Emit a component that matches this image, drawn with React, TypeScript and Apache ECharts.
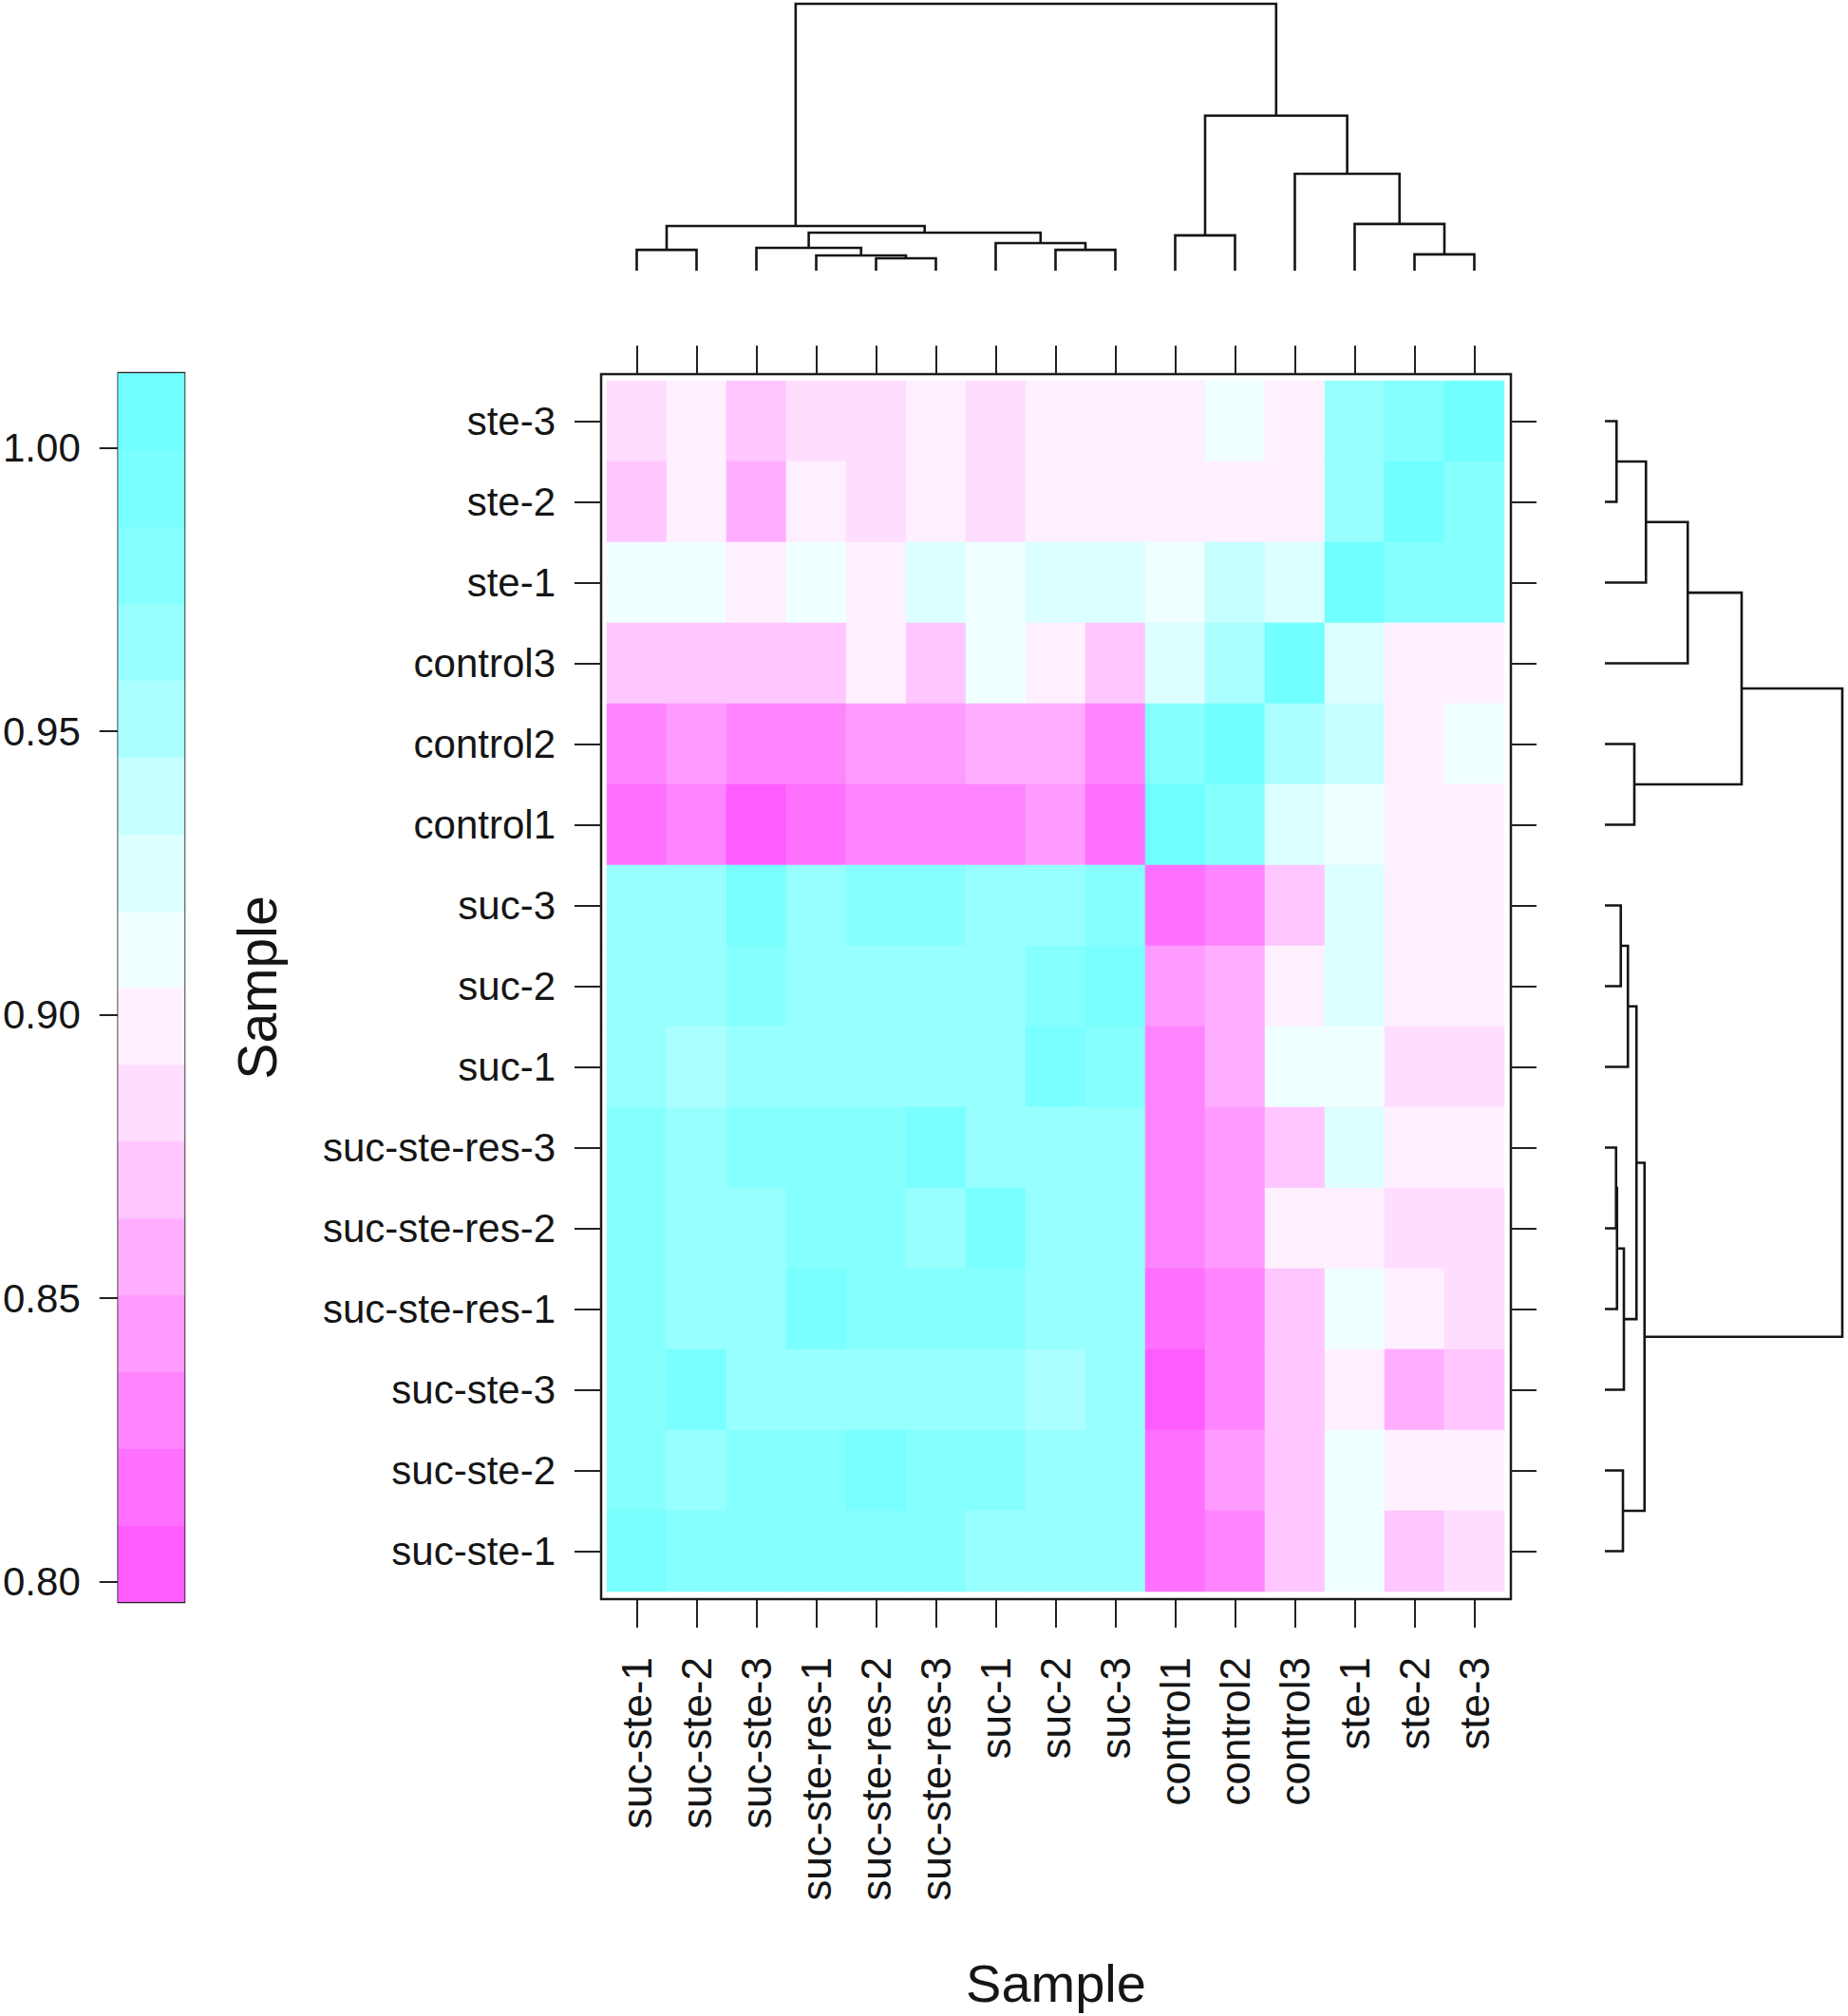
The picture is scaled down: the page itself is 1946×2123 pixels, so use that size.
import React, { useEffect, useRef } from "react";
import * as echarts from "echarts";

// ---------- DATA ----------
const samples = [
  "suc-ste-1", "suc-ste-2", "suc-ste-3",
  "suc-ste-res-1", "suc-ste-res-2", "suc-ste-res-3",
  "suc-1", "suc-2", "suc-3",
  "control1", "control2", "control3",
  "ste-1", "ste-2", "ste-3",
];

// heatmap rows, listed from the top row (ste-3) down to the bottom row (suc-ste-1);
// each row's values follow the column order of `samples`
const rowSte3 = [0.884, 0.898, 0.871, 0.884, 0.884, 0.898, 0.884, 0.898, 0.898, 0.898, 0.912, 0.898, 0.966, 0.979, 1.0];
const rowSte2 = [0.871, 0.898, 0.857, 0.898, 0.884, 0.898, 0.884, 0.898, 0.898, 0.898, 0.898, 0.898, 0.966, 1.0, 0.979];
const rowSte1 = [0.912, 0.912, 0.898, 0.912, 0.898, 0.925, 0.912, 0.925, 0.925, 0.912, 0.939, 0.925, 1.0, 0.979, 0.979];
const rowControl3 = [0.871, 0.871, 0.871, 0.871, 0.898, 0.871, 0.912, 0.898, 0.871, 0.925, 0.952, 1.0, 0.925, 0.898, 0.898];
const rowControl2 = [0.830, 0.844, 0.830, 0.830, 0.844, 0.844, 0.857, 0.857, 0.830, 0.979, 1.0, 0.952, 0.939, 0.898, 0.912];
const rowControl1 = [0.817, 0.830, 0.803, 0.817, 0.830, 0.830, 0.830, 0.844, 0.817, 1.0, 0.979, 0.925, 0.912, 0.898, 0.898];
const rowSuc3 = [0.966, 0.966, 0.993, 0.966, 0.979, 0.979, 0.966, 0.966, 0.979, 0.817, 0.830, 0.871, 0.925, 0.898, 0.898];
const rowSuc2 = [0.966, 0.966, 0.979, 0.966, 0.966, 0.966, 0.966, 0.979, 0.993, 0.844, 0.857, 0.898, 0.925, 0.898, 0.898];
const rowSuc1 = [0.966, 0.952, 0.966, 0.966, 0.966, 0.966, 0.966, 0.993, 0.979, 0.830, 0.857, 0.912, 0.912, 0.884, 0.884];
const rowRes3 = [0.979, 0.966, 0.979, 0.979, 0.979, 0.993, 0.966, 0.966, 0.966, 0.830, 0.844, 0.871, 0.925, 0.898, 0.898];
const rowRes2 = [0.979, 0.966, 0.966, 0.979, 0.979, 0.966, 0.993, 0.966, 0.966, 0.830, 0.844, 0.898, 0.898, 0.884, 0.884];
const rowRes1 = [0.979, 0.966, 0.966, 0.993, 0.979, 0.979, 0.979, 0.966, 0.966, 0.817, 0.830, 0.871, 0.912, 0.898, 0.884];
const rowSucSte3 = [0.979, 0.993, 0.966, 0.966, 0.966, 0.966, 0.966, 0.952, 0.966, 0.803, 0.830, 0.871, 0.898, 0.857, 0.871];
const rowSucSte2 = [0.979, 0.966, 0.979, 0.979, 0.993, 0.979, 0.979, 0.966, 0.966, 0.817, 0.844, 0.871, 0.912, 0.898, 0.898];
const rowSucSte1 = [0.993, 0.979, 0.979, 0.979, 0.979, 0.979, 0.966, 0.966, 0.966, 0.817, 0.830, 0.871, 0.912, 0.871, 0.884];

const rowsTopDown = [
  rowSte3, rowSte2, rowSte1, rowControl3, rowControl2, rowControl1,
  rowSuc3, rowSuc2, rowSuc1, rowRes3, rowRes2, rowRes1,
  rowSucSte3, rowSucSte2, rowSucSte1,
];

// colour key: 16 bands
const colorBreaks = [
  0.7964, 0.8099, 0.8235, 0.8370, 0.8506, 0.8641, 0.8777, 0.8912, 0.9048,
  0.9183, 0.9319, 0.9454, 0.9590, 0.9725, 0.9861, 0.9996, 1.0132,
];
const bandColors = [
  "#ff5cff", "#ff70ff", "#ff85ff", "#ff9aff", "#ffaeff", "#ffc6ff", "#ffddff", "#fff0ff",
  "#f0ffff", "#dcffff", "#c5ffff", "#abffff", "#98ffff", "#86ffff", "#79ffff", "#71ffff",
];
const keyTicks = [0.8, 0.85, 0.9, 0.95, 1.0];

// column dendrogram (hclust style: negative = leaf column, positive = earlier merge)
const colMerges = [
  [-5, -6], [-4, 1], [-8, -9], [-1, -2], [-3, 2], [-7, 3], [-14, -15],
  [-10, -11], [5, 6], [4, 9], [-13, 7], [-12, 11], [8, 12], [10, 13],
];
const colHeights = [0.046, 0.057, 0.078, 0.078, 0.0855, 0.103, 0.061, 0.132, 0.1425, 0.167, 0.175, 0.363, 0.581, 1.0];

// row dendrogram (leaf = row index counted from the bottom)
const rowMerges = [
  [-15, -14], [1, -13], [2, -12], [-11, -10], [3, 4], [-9, -8], [6, -7],
  [-6, -5], [8, -4], [9, -3], [7, 10], [-2, -1], [11, 12], [5, 13],
];
const rowHeights = [0.049, 0.173, 0.349, 0.124, 0.576, 0.067, 0.097, 0.047, 0.051, 0.08, 0.133, 0.076, 0.167, 1.0];

// ---------- HELPERS ----------
function dendroSegments(merges: number[][], heights: number[]) {
  const pos: number[] = [];
  const out: number[][] = [];
  merges.forEach(([a, b], i) => {
    const pa = a < 0 ? -a - 1 : pos[a - 1];
    const pb = b < 0 ? -b - 1 : pos[b - 1];
    const ha = a < 0 ? 0 : heights[a - 1];
    const hb = b < 0 ? 0 : heights[b - 1];
    pos[i] = (pa + pb) / 2;
    out.push([pa, pb, ha, hb, heights[i]]);
  });
  return out;
}

const FONT = "'Liberation Sans', Arial, Helvetica, sans-serif";
const INK = "#151515";

export default function App() {
  const ref = useRef<HTMLDivElement>(null);

  useEffect(() => {
    if (!ref.current) return;
    const chart = echarts.init(ref.current, undefined, { renderer: "svg" });

    const n = samples.length;
    const heatData: number[][] = [];
    rowsTopDown.forEach((row, ti) => {
      const yi = n - 1 - ti;
      row.forEach((v, xi) => heatData.push([xi, yi, v]));
    });

    const pieces = bandColors.map((c, i) => {
      const p: any = { gte: colorBreaks[i], color: c };
      if (i === bandColors.length - 1) p.lte = colorBreaks[i + 1];
      else p.lt = colorBreaks[i + 1];
      return p;
    });

    const keyData = bandColors.map((c, i) => [colorBreaks[i], colorBreaks[i + 1], i]);

    const tickStyle = { color: "#222", width: 2 };
    const hiddenValue = (min: number, max: number, gridIndex: number) => ({
      type: "value", gridIndex, min, max, show: false,
      splitLine: { show: false },
    });

    const option: any = {
      animation: false,
      backgroundColor: "#ffffff",
      grid: [
        { left: 639, top: 401, width: 945, height: 1275 },
        { left: 633, top: 394, width: 958, height: 1290, show: true, borderColor: "#1c1c1c", borderWidth: 2.5, backgroundColor: "transparent" },
        { left: 639, top: 4, width: 945, height: 281 },
        { left: 1690, top: 401, width: 250, height: 1275 },
        { left: 119, top: 393, width: 75, height: 1294, show: true, borderColor: "#1c1c1c", borderWidth: 2.5, backgroundColor: "transparent" },
      ],
      xAxis: [
        {
          gridIndex: 0, type: "category", data: samples, position: "bottom", offset: 8,
          axisLine: { show: false },
          axisTick: { show: true, alignWithLabel: true, interval: 0, length: 30, lineStyle: tickStyle },
          axisLabel: { interval: 0, rotate: 90, margin: 61, fontSize: 44, color: INK, fontFamily: FONT },
          splitLine: { show: false },
        },
        {
          gridIndex: 0, type: "category", data: samples, position: "top", offset: 7,
          axisLine: { show: false },
          axisTick: { show: true, alignWithLabel: true, interval: 0, length: 30, lineStyle: tickStyle },
          axisLabel: { show: false },
          splitLine: { show: false },
        },
        hiddenValue(0, 1, 1),
        hiddenValue(-0.5, n - 0.5, 2),
        hiddenValue(0, 1, 3),
        hiddenValue(0, 1, 4),
      ],
      yAxis: [
        {
          gridIndex: 0, type: "category", data: samples, position: "left", offset: 6,
          axisLine: { show: false },
          axisTick: { show: true, alignWithLabel: true, interval: 0, length: 28, lineStyle: tickStyle },
          axisLabel: { interval: 0, margin: 48, fontSize: 42, color: INK, fontFamily: FONT },
          splitLine: { show: false },
        },
        {
          gridIndex: 0, type: "category", data: samples, position: "right", offset: 7,
          axisLine: { show: false },
          axisTick: { show: true, alignWithLabel: true, interval: 0, length: 27, lineStyle: tickStyle },
          axisLabel: { show: false },
          splitLine: { show: false },
        },
        hiddenValue(0, 1, 1),
        hiddenValue(0, 1, 2),
        hiddenValue(-0.5, n - 0.5, 3),
        {
          type: "value", gridIndex: 4, position: "left",
          min: colorBreaks[0], max: colorBreaks[colorBreaks.length - 1],
          axisLine: { show: false },
          axisTick: { show: true, inside: false, length: 20, lineStyle: tickStyle, customValues: keyTicks },
          axisLabel: {
            margin: 40, fontSize: 42, color: INK, fontFamily: FONT, customValues: keyTicks,
            formatter: (v: number) => v.toFixed(2),
          },
          splitLine: { show: false },
        },
      ],
      visualMap: {
        type: "piecewise", show: false, seriesIndex: 0, dimension: 2, pieces,
      },
      series: [
        {
          type: "heatmap", xAxisIndex: 0, yAxisIndex: 0, data: heatData,
          itemStyle: { borderWidth: 0 },
          emphasis: { disabled: true },
        },
        {
          type: "custom", xAxisIndex: 3, yAxisIndex: 3, clip: false,
          data: dendroSegments(colMerges, colHeights),
          renderItem: (_p: any, api: any) => {
            const xa = api.value(0), xb = api.value(1), ha = api.value(2), hb = api.value(3), h = api.value(4);
            return {
              type: "polyline",
              shape: { points: [api.coord([xa, ha]), api.coord([xa, h]), api.coord([xb, h]), api.coord([xb, hb])] },
              style: { stroke: INK, lineWidth: 2.6, fill: null },
            };
          },
        },
        {
          type: "custom", xAxisIndex: 4, yAxisIndex: 4, clip: false,
          data: dendroSegments(rowMerges, rowHeights),
          renderItem: (_p: any, api: any) => {
            const ya = api.value(0), yb = api.value(1), ha = api.value(2), hb = api.value(3), h = api.value(4);
            return {
              type: "polyline",
              shape: { points: [api.coord([ha, ya]), api.coord([h, ya]), api.coord([h, yb]), api.coord([hb, yb])] },
              style: { stroke: INK, lineWidth: 2.6, fill: null },
            };
          },
        },
        {
          type: "custom", xAxisIndex: 5, yAxisIndex: 5, clip: true,
          data: keyData,
          renderItem: (_p: any, api: any) => {
            const lo = api.value(0), hi = api.value(1), idx = api.value(2);
            const a = api.coord([0, lo]);
            const b = api.coord([1, hi]);
            return {
              type: "rect",
              shape: { x: a[0], y: b[1], width: b[0] - a[0], height: a[1] - b[1] },
              style: { fill: bandColors[idx], stroke: bandColors[idx], lineWidth: 0.8 },
            };
          },
        },
      ],
      graphic: [
        {
          type: "text", x: 271, y: 1040, rotation: Math.PI / 2,
          style: { text: "Sample", fontSize: 57, fontFamily: FONT, fill: INK, align: "center", verticalAlign: "middle" },
        },
        {
          type: "text", x: 1112, y: 2088,
          style: { text: "Sample", fontSize: 56, fontFamily: FONT, fill: INK, align: "center", verticalAlign: "middle" },
        },
      ],
    };

    chart.setOption(option);
    return () => chart.dispose();
  }, []);

  return (
    <div
      ref={ref}
      style={{ position: "absolute", left: 0, top: 0, width: 1946, height: 2123, background: "#fff" }}
    />
  );
}
